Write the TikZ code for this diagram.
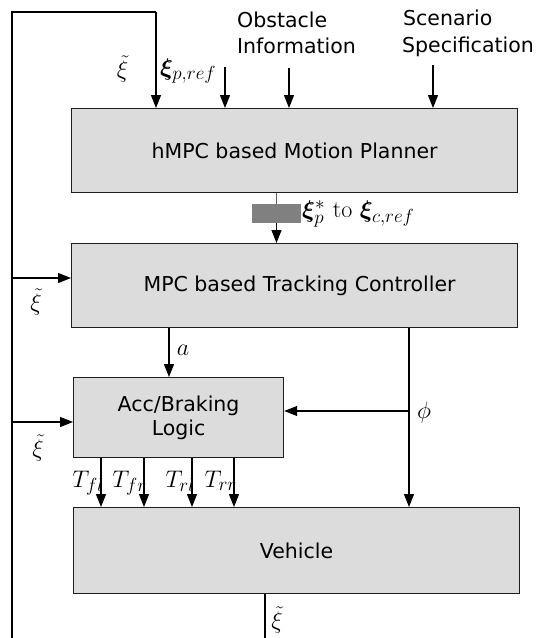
\RequirePackage{fix-cm}
\documentclass[tikz,border=0pt]{standalone}
\usepackage{amsmath,bm}
\usepackage[no-math]{fontspec}
\setmainfont{DejaVu Sans}
\usetikzlibrary{arrows.meta}
\definecolor{boxfill}{RGB}{220,220,220}
\definecolor{boxline}{RGB}{30,30,30}
\definecolor{graybar}{RGB}{128,128,128}
\definecolor{grayline}{RGB}{90,90,90}
\DeclareMathSizes{24}{24}{19}{15}
\newcommand{\bigmath}{\fontsize{24}{28}\selectfont}
\tikzset{
  blk/.style={draw=boxline, fill=boxfill, line width=1.2pt, anchor=north west, align=center, inner sep=0pt},
  arr/.style={line width=1.1pt, -{Triangle[length=13pt,width=10pt]}},
  ln/.style={line width=1.1pt},
  lbl/.style={inner sep=0pt, align=left},
  mlbl/.style={inner sep=0pt, font=\bigmath}
}
\begin{document}
\begin{tikzpicture}[x=1pt,y=-1pt,font=\fontsize{20.5}{25}\selectfont]
\useasboundingbox (0,0) rectangle (537,638);
\clip (0,0) rectangle (537,638);
% blocks
\node[blk, minimum width=446pt, minimum height=84pt] (plan) at (71,108) {hMPC based Motion Planner};
\node[blk, minimum width=446pt, minimum height=84pt] (ctrl) at (71,243) {\hspace*{10pt}MPC based Tracking Controller};
\node[blk, minimum width=210pt, minimum height=80pt] (acc) at (73,377) {Acc/Braking\\[-1pt]Logic};
\node[blk, minimum width=446pt, minimum height=86pt] (veh) at (73,507) {Vehicle};
% top labels
\node[lbl, anchor=base west] (obs1) at (237,27) {Obstacle};
\node[lbl, anchor=base west] (obs2) at (237,53) {Information};
\node[lbl, anchor=base west] (scn1) at (403,25) {Scenario};
\node[lbl, anchor=base west] (scn2) at (402,52) {Specification};
% coordinates
\coordinate (bl) at (12,640);
\coordinate (tl) at (12,12);
\coordinate (fbc) at (156,12);
\coordinate (xir) at (225,67);
\coordinate (obsin) at (289,68);
\coordinate (scnin) at (433,65);
\coordinate (fbctrl) at (12,278);
\coordinate (fbacc) at (12,422);
\coordinate (phis) at (409,411);
\coordinate (vout) at (265,640);
% feedback loop
\draw[ln] (bl) -- (tl) -- (fbc);
\draw[arr] (fbc) -- (fbc |- plan.north);
\draw[arr] (fbctrl) -- (ctrl.west |- fbctrl);
\draw[arr] (fbacc) -- (acc.west |- fbacc);
\draw[ln] (veh.south -| vout) -- (vout);
% top inputs
\draw[arr] (xir) -- (xir |- plan.north);
\draw[arr] (obsin) -- (obsin |- plan.north);
\draw[arr] (scnin) -- (scnin |- plan.north);
% planner -> controller
\node[fill=graybar, minimum width=49pt, minimum height=19pt, inner sep=0pt] (gr) at (276.5,213.5) {};
\draw[ln, grayline] (plan.south -| gr.center) -- (gr.north);
\draw[arr] (gr.south) -- (ctrl.north -| gr.center);
\node[mlbl, anchor=west] (refl) at (302,214) {$\bm{\xi}_p^{*}\ \mathrm{to}\ \bm{\xi}_{c,ref}$};
% controller -> acc, vehicle
\coordinate (ax) at (169,0);
\draw[arr] (ctrl.south -| ax) -- (acc.north -| ax);
\node[mlbl] (alab) at (183,350) {$a$};
\draw[arr] (ctrl.south -| phis) -- (veh.north -| phis);
\draw[arr] (phis) -- (acc.east |- phis);
\node[mlbl] (philab) at (424,412) {$\phi$};
% torques
\foreach \x/\t in {101/fl,144/fr,192/rl,234/rr}{
  \coordinate (tq\t) at (\x,0);
  \draw[arr] (acc.south -| tq\t) -- (veh.north -| tq\t);
  \node[mlbl, anchor=base east] (tl\t) at (\x+3,487) {$T_{\t}$};
}
% xi tilde labels
\node[mlbl] (xt1) at (122.5,69) {$\tilde{\xi}$};
\node[mlbl, anchor=base west] (xiref) at (160,75) {$\bm{\xi}_{p,ref}$};
\node[mlbl] (xt2) at (36,302) {$\tilde{\xi}$};
\node[mlbl] (xt3) at (38,448) {$\tilde{\xi}$};
\node[mlbl] (xt4) at (277,620) {$\tilde{\xi}$};
\end{tikzpicture}
\end{document}
